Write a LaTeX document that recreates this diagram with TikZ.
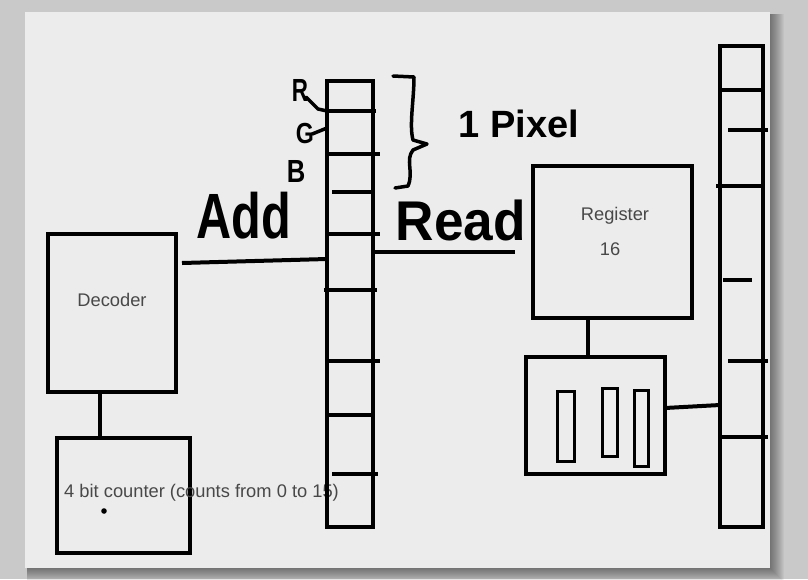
\documentclass[tikz,border=0pt]{standalone}
\usepackage{fontspec}
\setmainfont{Liberation Sans}
\newfontfamily\handfont{Liberation Sans}
\usetikzlibrary{calc}
\definecolor{bggray}{HTML}{C9C9C9}
\definecolor{canvas}{HTML}{ECECEC}
\definecolor{txtgray}{HTML}{484848}
\begin{document}
\begin{tikzpicture}[x=1pt,y=-1pt,
  box/.style={draw=black, line width=4pt, inner sep=0pt, outer sep=0pt},
  smallbox/.style={draw=black, line width=3pt, inner sep=0pt, outer sep=0pt},
  wire/.style={line width=4pt, black},
  cellline/.style={line width=3.5pt, black},
  inkline/.style={line width=3.5pt, black, line cap=round, line join=round},
  typed/.style={text=txtgray, font=\fontsize{18.3}{21}\selectfont, inner sep=0pt},
  hand/.style={font=\handfont\bfseries, inner sep=0pt, text=black},
]
\useasboundingbox (0,0) rectangle (808,579);
% background and sheet
\fill[bggray] (0,0) rectangle (808,579);
\foreach \s in {1,2,...,14} {
  \fill[black, opacity=0.035] (27,14) rectangle ($(770,568)+(\s,\s)$);
}
\fill[canvas] (25,12) rectangle (770,568);

% ---- left side
\node[box, minimum width=128pt, minimum height=158pt] (dec) at (112,313) {};
\node[typed] (dectext) at (112,300) {Decoder};
\node[box, minimum width=133pt, minimum height=115pt] (cnt) at (123.5,495.5) {};
\node[typed, anchor=west] (cnttext) at (64,493) {4 bit counter (counts from 0 to 15)};
\fill[black] (104,511) circle (2.8pt);
\draw[wire] ($(dec.south west)+(52,0)$) coordinate (dbot) -- (dbot |- cnt.north);

% ---- memory column
\node[box, minimum width=46pt, minimum height=446pt] (mem) at (350,304) {};
\draw[cellline] (327,111) -- (376,111);
\draw[cellline] (327,154) -- (380,154);
\draw[cellline] (332,192) -- (373,192);
\draw[cellline] (327,234) -- (380,234);
\draw[cellline] (324,290) -- (377,290);
\draw[cellline] (327,361) -- (380,361);
\draw[cellline] (327,415) -- (373,415);
\draw[cellline] (332,474) -- (378,474);

% decoder -> memory
\draw[wire] ($(dec.north east)+(6,29)$) -- ($(mem.north west)+(0,178)$);

% ---- register
\node[box, minimum width=159pt, minimum height=152pt] (reg) at (612.5,242) {};
\node[typed] (regtext) at (615,216) {Register};
\node[typed] (regnum) at (610,249) {16};
% memory -> register
\draw[wire] ($(mem.north east)+(0,171)$) -- ($(reg.north west)+(-18,86)$);

% ---- buffer box
\node[box, minimum width=139pt, minimum height=117pt] (buf) at (595.5,415.5) {};
\node[smallbox, minimum width=17pt, minimum height=70pt] (b1) at (565.5,426) {};
\node[smallbox, minimum width=15pt, minimum height=68pt] (b2) at (609.5,422) {};
\node[smallbox, minimum width=14pt, minimum height=76pt] (b3) at (641,428) {};
\draw[wire] ($(reg.south west)+(55,0)$) coordinate (rbot) -- (rbot |- buf.north);

% ---- right column
\node[box, minimum width=43pt, minimum height=481pt] (col) at (741.5,286.5) {};
\draw[cellline] (720,90) -- (763,90);
\draw[cellline] (728,130) -- (768,130);
\draw[cellline] (716,186) -- (763,186);
\draw[cellline] (723,280) -- (752,280);
\draw[cellline] (728,361) -- (768,361);
\draw[cellline] (722,437) -- (768,437);
\draw[wire] ($(buf.north east)+(0,51)$) -- ($(col.north west)+(0,359)$);

% ---- handwriting
\node[hand, font=\handfont\bfseries\fontsize{32}{32}\selectfont, xscale=0.7] (Rlab) at (300,90) {R};
\node[hand, font=\handfont\bfseries\fontsize{29}{29}\selectfont, xscale=0.8] (Glab) at (305,134) {G};
\node[hand, font=\handfont\bfseries\fontsize{32}{32}\selectfont, xscale=0.8] (Blab) at (296,171) {B};
\draw[inkline] ($(Rlab.south east)+(-2,-4)$) -- (318,109) -- (mem.west |- 0,111);
\draw[inkline] ($(Glab.east)+(-2,0)$) -- (mem.west |- 0,128);
\node[hand, font=\handfont\bfseries\fontsize{64}{64}\selectfont, xscale=0.76] (addlab) at (244,216) {Add};
\node[hand, font=\handfont\bfseries\fontsize{56}{56}\selectfont, xscale=0.95] (readlab) at (461,220) {Read};
\node[hand, font=\handfont\bfseries\fontsize{38}{38}\selectfont] (pixlab) at (519,124) {1 Pixel};
% brace
\draw[inkline] (393,76) -- (414,77) .. controls (414,100) and (409,125) .. (413,140)
  -- (427,144) -- (413,150) .. controls (405,160) and (414,172) .. (408,186) -- (395,188);
\end{tikzpicture}
\end{document}
